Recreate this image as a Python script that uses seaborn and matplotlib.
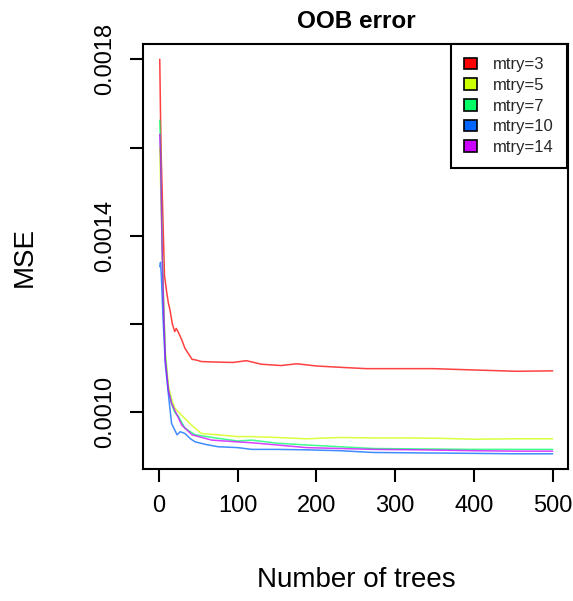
import numpy as np
import pandas as pd
import matplotlib
matplotlib.use("Agg")
import matplotlib.pyplot as plt
from matplotlib.patches import Patch
import seaborn as sns

# ---- data ----
labels = ["mtry=3", "mtry=5", "mtry=7", "mtry=10", "mtry=14"]
colors = ["#FF0000", "#CCFF00", "#00FF66", "#0066FF", "#CC00FF"]

trees_m3 = [1, 2, 3, 5, 7, 10, 12, 14, 17, 20, 22, 25, 29, 33, 37, 42, 46, 54, 70, 94,
            111, 130, 155, 175, 200, 230, 263, 319, 348, 399, 454, 500]
mse_m3 = [0.00180, 0.00167, 0.00157, 0.00144, 0.00131, 0.00127, 0.001247, 0.001232, 0.00120,
          0.001183, 0.00119, 0.00118, 0.001164, 0.001145, 0.001134, 0.00112, 0.001119, 0.001115,
          0.001114, 0.001113, 0.001117, 0.001109, 0.001106, 0.001110, 0.001105, 0.001102,
          0.001099, 0.001099, 0.001099, 0.001096, 0.001093, 0.001094]

trees_m5 = [1, 2, 4, 6, 8, 12, 16, 20, 25, 33, 42, 54, 75, 100, 118, 150, 187, 229, 270,
            314, 360, 399, 450, 500]
mse_m5 = [0.00160, 0.00152, 0.00138, 0.00124, 0.00114, 0.00106, 0.00103, 0.00101, 0.00100,
          0.000986, 0.000970, 0.000952, 0.000949, 0.000945, 0.000945, 0.000943, 0.000940,
          0.000943, 0.000942, 0.000942, 0.000941, 0.000939, 0.000940, 0.000940]

trees_m7 = [1, 2, 4, 6, 8, 12, 16, 20, 25, 33, 46, 75, 100, 118, 150, 187, 230, 272, 330,
            399, 450, 500]
mse_m7 = [0.001662, 0.00160, 0.00138, 0.00124, 0.00113, 0.00105, 0.00102, 0.00100, 0.00099,
          0.000964, 0.000949, 0.000941, 0.000935, 0.000937, 0.000930, 0.000926, 0.000922,
          0.000918, 0.000917, 0.000916, 0.000916, 0.000916]

trees_m10 = [1, 2, 3, 5, 8, 12, 16, 20, 23, 27, 33, 40, 46, 60, 75, 100, 118, 150, 187, 230,
             272, 330, 399, 450, 500]
mse_m10 = [0.00133, 0.00134, 0.00131, 0.00122, 0.00111, 0.00104, 0.000975, 0.000960, 0.000949,
           0.000956, 0.000952, 0.000940, 0.000933, 0.000927, 0.000922, 0.000920, 0.000916,
           0.000916, 0.000915, 0.000913, 0.000909, 0.000908, 0.000907, 0.000906, 0.000906]

trees_m14 = [1, 2, 4, 6, 8, 12, 16, 20, 29, 42, 67, 100, 118, 150, 187, 230, 272, 330, 399,
             450, 500]
mse_m14 = [0.00163, 0.00158, 0.00137, 0.00123, 0.00112, 0.00105, 0.00102, 0.001005, 0.000971,
           0.000949, 0.000937, 0.000933, 0.000931, 0.000926, 0.000920, 0.000918, 0.000916,
           0.000915, 0.000913, 0.000912, 0.000912]

x_ticks = [0, 100, 200, 300, 400, 500]
y_ticks = [0.0010, 0.0012, 0.0014, 0.0016, 0.0018]
y_tick_labels = ["0.0010", "", "0.0014", "", "0.0018"]

series = [(trees_m3, mse_m3), (trees_m5, mse_m5), (trees_m7, mse_m7),
          (trees_m10, mse_m10), (trees_m14, mse_m14)]
frames = []
for lab, (t, m) in zip(labels, series):
    frames.append(pd.DataFrame({"trees": t, "mse": m, "mtry": lab}))
df = pd.concat(frames, ignore_index=True)

# ---- style ----
sns.set_theme(style="white")
plt.rcParams["font.family"] = ["Liberation Sans", "DejaVu Sans"]

fig = plt.figure(figsize=(5.73, 6.01), dpi=100)
ax = fig.add_axes([0.250, 0.2196, 0.742, 0.7067])

sns.lineplot(data=df, x="trees", y="mse", hue="mtry", palette=dict(zip(labels, colors)),
             estimator=None, sort=False, linewidth=1.1, alpha=0.75, ax=ax, legend=False)

ax.set_xlim(-19.96, 520.0)
ax.set_ylim(0.0008715, 0.001834)
ax.set_xticks(x_ticks)
ax.set_xticklabels([str(v) for v in x_ticks])
ax.set_yticks(y_ticks)
ax.set_yticklabels(y_tick_labels, rotation=90, va="center")

for s in ax.spines.values():
    s.set_color("black")
    s.set_linewidth(1.5)

ax.tick_params(axis="both", which="major", direction="out", length=9.5, width=1.5,
               color="black", labelsize=17, labelcolor="black", left=True, bottom=True)
ax.tick_params(axis="x", pad=9)
ax.tick_params(axis="y", pad=10)

ax.set_xlabel("")
ax.set_ylabel("")
fig.text(0.5 * (0.250 + 0.992), 1 - 580 / 601, "Number of trees", ha="center", va="center",
         fontsize=20, color="black")
fig.text(25 / 573, 1 - 257 / 601, "MSE", ha="center", va="center", rotation=90,
         fontsize=20, color="black")
fig.text(0.5 * (0.250 + 0.992), 1 - 21 / 601, "OOB error", ha="center", va="center",
         fontsize=17.5, fontweight="bold", color="black")

handles = [Patch(facecolor=c, edgecolor="black", linewidth=1.2) for c in colors]
leg = ax.legend(handles, labels, loc="upper right", bbox_to_anchor=(0.996, 1.0),
                borderaxespad=0, fontsize=12, frameon=True, fancybox=False,
                handlelength=0.8, handleheight=0.7, handletextpad=0.95,
                labelspacing=0.34, borderpad=0.78)
leg.get_frame().set_edgecolor("black")
leg.get_frame().set_linewidth(1.5)
leg.get_frame().set_alpha(1)

fig.savefig("out.png", dpi=100, facecolor="white")
